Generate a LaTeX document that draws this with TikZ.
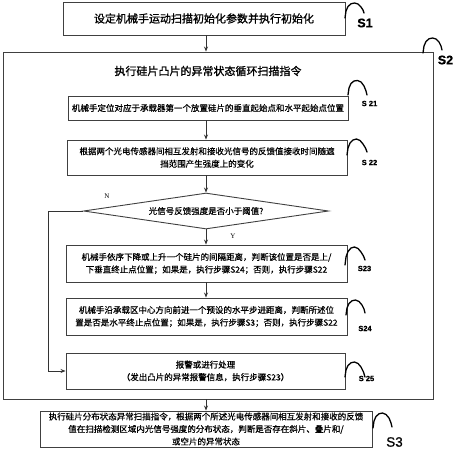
\documentclass[tikz,border=0pt]{standalone}
\usepackage{fontspec}
\setmainfont{Noto Sans CJK SC}
\newfontfamily\cjkb{Noto Sans CJK SC}[FakeBold=1.2]
\newfontfamily\cjkm{Noto Sans CJK SC}[FakeBold=0.6]
\newfontfamily\lab{Liberation Sans}[FakeBold=0.8]
\newfontfamily\ser{Liberation Serif}
\usetikzlibrary{shapes.geometric,arrows.meta}
\begin{document}
\begin{tikzpicture}[x=1pt,y=-1pt,
  box/.style={draw=black!75,line width=0.9pt,rectangle,inner sep=0pt,align=center,font=\cjkm\fontsize{8.5}{12.5}\selectfont},
  dia/.style={draw=black!75,line width=0.9pt,diamond,aspect=6.8,minimum width=245pt,minimum height=36pt,inner sep=1pt,font=\cjkm\fontsize{8.5}{12}\selectfont},
  arr/.style={draw=black!80,line width=0.8pt,-{Stealth[length=5pt,width=4pt]}},
  stepcurve/.style={draw=black,line width=1.3pt,line join=round,line cap=round},
  lbl/.style={font=\lab\bfseries\fontsize{7.5}{9}\selectfont,inner sep=0pt},
  biglbl/.style={font=\lab\bfseries\fontsize{12.5}{14}\selectfont,inner sep=0pt},
  yn/.style={font=\ser\fontsize{7}{8}\selectfont,inner sep=0pt}]
\useasboundingbox (0,0) rectangle (455,450);

% S1
\node[box,minimum width=282pt,minimum height=33pt,font=\cjkb\fontsize{11}{13}\selectfont] (s1) at (204,18.5) {设定机械手运动扫描初始化参数并执行初始化};
% S2 outer
\node[draw=black!75,line width=0.9pt,rectangle,inner sep=0pt,minimum width=430pt,minimum height=347pt] (s2) at (218,225.5) {};
\node[font=\cjkb\fontsize{11}{13}\selectfont,inner sep=0pt] (t2) at (208,71) {执行硅片凸片的异常状态循环扫描指令};
% inner steps
\node[box,minimum width=280pt,minimum height=24pt] (s21) at (208,108) {机械手定位对应于承载器第一个放置硅片的垂直起始点和水平起始点位置};
\node[box,minimum width=280pt,minimum height=35pt] (s22) at (207,157.5) {根据两个光电传感器间相互发射和接收光信号的反馈值接收时间随遮\\挡范围产生强度上的变化};
\node[dia] (d) at (206,211) {光信号反馈强度是否小于阈值?};
\node[box,minimum width=281pt,minimum height=37pt] (s23) at (206.5,263.5) {机械手依序下降或上升一个硅片的间隔距离，判断该位置是否是上/\\下垂直终止点位置；如果是，执行步骤S24；否则，执行步骤S22};
\node[box,minimum width=281pt,minimum height=37pt] (s24) at (206.5,316.5) {机械手沿承载区中心方向前进一个预设的水平步进距离，判断所述位\\置是否是水平终止点位置；如果是，执行步骤S3；否则，执行步骤S22};
\node[box,minimum width=279pt,minimum height=36pt] (s25) at (205.5,371) {报警或进行处理\\（发出凸片的异常报警信息，执行步骤S23）};
\node[box,minimum width=332pt,minimum height=36pt] (s3) at (206,429) {执行硅片分布状态异常扫描指令，根据两个所述光电传感器间相互发射和接收的反馈\\值在扫描检测区域内光信号强度的分布状态，判断是否存在斜片、叠片和/\\或空片的异常状态};

% connectors
\coordinate (ax) at (206,0);
\draw[arr] (ax |- s1.south) -- (ax |- s2.north);
\draw[arr] (ax |- s21.south) -- (ax |- s22.north);
\draw[arr] (ax |- s22.south) -- (d.north);
\draw[arr] (d.south) -- (ax |- s23.north);
\draw[arr] (ax |- s23.south) -- (ax |- s24.north);
\draw[arr] (ax |- s2.south) -- (ax |- s3.north);
\coordinate (nx) at (48,0);
\draw[arr] (d.west) -- (nx |- d.west) -- (nx |- s25.west) -- (s25.west);
\node[yn] (nl) at (107,196) {N};
\node[yn] (yl) at (233,236) {Y};

% step labels with humps
\draw[stepcurve] (345,18) -- (346,11) -- (348,6.5) -- (351,3.8) -- (354.5,3) -- (358,4) -- (361,7) -- (363,10) -- (364,13);
\node[biglbl] (l1) at (365,23) {S1};
\draw[stepcurve] (423,53) -- (424,46) -- (426,41.5) -- (429,38.8) -- (432.5,38) -- (436,39) -- (439,42) -- (441,46) -- (442,50);
\node[biglbl] (l2) at (445.5,60) {S2};
\draw[stepcurve] (348,95) -- (349,88) -- (351,83.5) -- (354,81) -- (357.5,80.5) -- (361,82) -- (364,86) -- (366,91) -- (367,95);
\node[lbl] (l21) at (369.5,103.5) {S 21};
\draw[stepcurve] (347,155) -- (348,148) -- (350,143) -- (353,140) -- (356.5,139) -- (360,140.5) -- (363,144) -- (365.5,148) -- (367,152);
\node[lbl] (l22) at (369.5,162.5) {S 22};
\draw[stepcurve] (345,265) -- (346,257) -- (348,251.5) -- (351,248) -- (354.5,247) -- (358,248.5) -- (361,252) -- (363.5,256) -- (365,260);
\node[lbl] (l23) at (364.5,268.5) {S23};
\draw[stepcurve] (346,315) -- (347,308) -- (349,303.5) -- (352,300.8) -- (355.5,300) -- (359,301.5) -- (362,305) -- (364,309) -- (365,313);
\node[lbl] (l24) at (365,328.5) {S24};
\draw[stepcurve] (345,377) -- (346,370) -- (348,365.5) -- (351,362.8) -- (354.5,362) -- (358,363.5) -- (361,367) -- (363.5,372) -- (365,377);
\node[lbl] (l25) at (366.5,378.5) {S 25};
\draw[stepcurve] (373,428) -- (374,421) -- (376,416.5) -- (379,413.8) -- (382.5,413) -- (386,414.5) -- (389,418) -- (391,423) -- (392,427);
\node[font=\lab\fontsize{13.5}{15}\selectfont,inner sep=0pt] (l3) at (394.5,442) {S3};
\end{tikzpicture}
\end{document}
